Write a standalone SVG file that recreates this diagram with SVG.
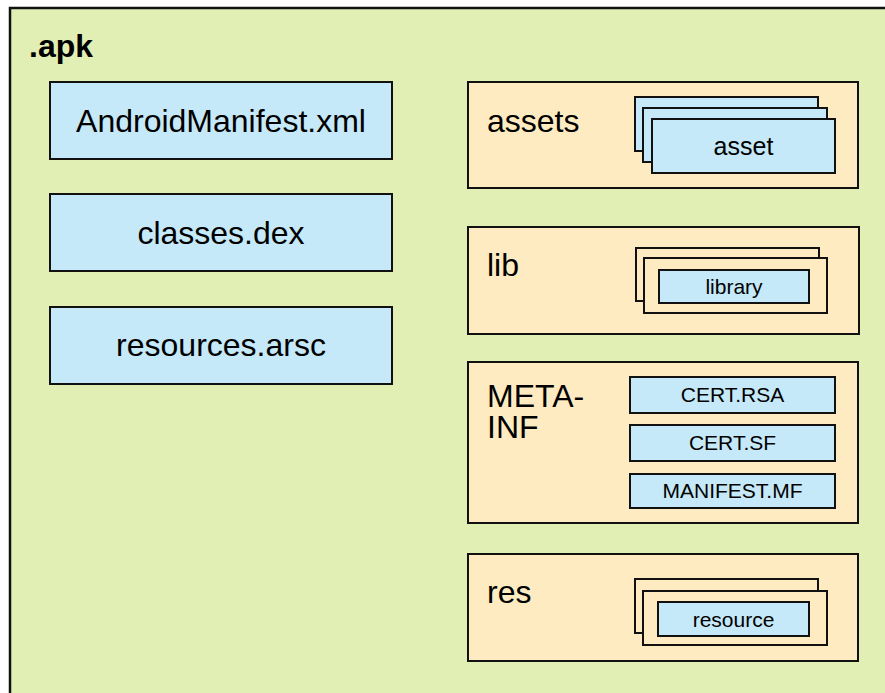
<svg xmlns="http://www.w3.org/2000/svg" width="885" height="693" viewBox="0 0 885 693">
  <style>
    .pkg { fill: #e1efb5; stroke: #111; stroke-width: 2.5; }
    .file { fill: #c5e9f8; stroke: #111; stroke-width: 2; }
    .dir { fill: #ffebc2; stroke: #111; stroke-width: 2; }
    text { font-family: "Liberation Sans", Arial, sans-serif; fill: #000; }
    .big { font-size: 32px; }
    .mid { font-size: 25px; }
    .small { font-size: 21px; }
    .c { text-anchor: middle; }
  </style>

  <!-- the archive itself -->
  <g id="apk">
    <rect class="pkg" x="10" y="8" width="900" height="720"/>
    <text x="29" y="57" class="big" font-weight="bold">.apk</text>
  </g>

  <!-- top-level files -->
  <g id="manifest">
    <rect class="file" x="50" y="82" width="342" height="77"/>
    <text x="221" y="132" class="big c">AndroidManifest.xml</text>
  </g>
  <g id="classes">
    <rect class="file" x="50" y="194" width="342" height="77"/>
    <text x="221" y="244" class="big c">classes.dex</text>
  </g>
  <g id="resources">
    <rect class="file" x="50" y="307" width="342" height="77"/>
    <text x="221" y="356" class="big c">resources.arsc</text>
  </g>

  <!-- assets directory -->
  <g id="assets">
    <rect class="dir" x="468" y="82" width="390" height="106"/>
    <text x="487" y="132" class="big">assets</text>
    <rect class="file" x="635" y="97" width="183" height="54"/>
    <rect class="file" x="643" y="108" width="184" height="54"/>
    <rect class="file" x="652" y="119" width="183" height="54"/>
    <text x="743.5" y="155" class="mid c">asset</text>
  </g>

  <!-- lib directory -->
  <g id="lib">
    <rect class="dir" x="468" y="227" width="391" height="107"/>
    <text x="487" y="276" class="big">lib</text>
    <rect class="dir" x="636" y="248" width="183" height="53"/>
    <rect class="dir" x="644" y="258" width="183" height="55"/>
    <rect class="file" x="659" y="270" width="150" height="33"/>
    <text x="734" y="294" class="small c">library</text>
  </g>

  <!-- META-INF directory -->
  <g id="meta-inf">
    <rect class="dir" x="468" y="362" width="390" height="161"/>
    <text x="487" y="407" class="big">META-</text>
    <text x="487" y="438" class="big">INF</text>
    <rect class="file" x="630" y="377" width="205" height="36"/>
    <text x="732.5" y="402" class="small c">CERT.RSA</text>
    <rect class="file" x="630" y="425" width="205" height="36"/>
    <text x="732.5" y="450" class="small c">CERT.SF</text>
    <rect class="file" x="630" y="474" width="205" height="34"/>
    <text x="732.5" y="498" class="small c">MANIFEST.MF</text>
  </g>

  <!-- res directory -->
  <g id="res">
    <rect class="dir" x="468" y="554" width="390" height="107"/>
    <text x="487" y="603" class="big">res</text>
    <rect class="dir" x="635" y="579" width="183" height="54"/>
    <rect class="dir" x="643" y="591" width="184" height="54"/>
    <rect class="file" x="658" y="602" width="151" height="34"/>
    <text x="733.5" y="627" class="small c">resource</text>
  </g>

  <!-- no connectors in this diagram -->
  <g id="connectors"/>
</svg>
